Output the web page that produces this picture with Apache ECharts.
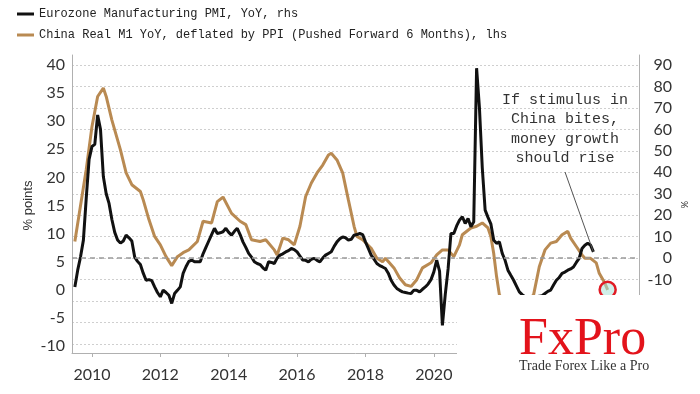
<!DOCTYPE html>
<html>
<head>
<meta charset="utf-8">
<script src="https://cdn.jsdelivr.net/npm/echarts@6/dist/echarts.min.js"></script>
<style>
html,body{margin:0;padding:0;background:#fff;}
#chart{width:700px;height:394px;}
</style>
</head>
<body>
<div id="chart"></div>
<script>
// ---- Data ----
const seriesNames = [
  'Eurozone Manufacturing PMI, YoY, rhs',
  'China Real M1 YoY, deflated by PPI (Pushed Forward 6 Months), lhs'
];
const leftTicks = { min: -10, max: 40, step: 5 };
const rightTicks = { min: -40, max: 90, step: 10 };

// Eurozone PMI YoY (%), monthly from 2009-07 to 2024-09 (rhs)
const pmiStart = '2009-07';
const pmiValues = [
  -13.4, -5.6, 0.6, 8.4, 28, 46,
  52, 53, 66.7, 60, 38, 30, 25.5, 18, 12, 8.5, 7, 8,
  10.7, 9.5, 8, 0.5, -1.5, -3, -7, -10.3, -10, -10.5, -13.4, -16,
  -18, -14.9, -16, -17.3, -21.1, -16.5, -15, -13.4, -7.1, -4, -1.5, -0.9,
  -1.7, -1.7, -1.7, 2, 5, 8, 11, 13.9, 11.5, 11.8, 12.3, 13.9,
  12, 10.7, 12.5, 13.9, 11, 7.6, 5, 2.2, 0.5, -1.7, -2.5, -3,
  -4.5, -5.6, -1.7, -2, -2.5, 0, 1.4, 2, 2.9, 3.5, 4.5, 4,
  2.9, 1, -0.9, -1, -1.7, -0.5, -0.1, -1, -1.7, 0, 1.4, 2.2,
  3, 5.5, 7.6, 9, 9.9, 9.5, 8.4, 8.8, 10.7, 11, 11.5, 11,
  7.6, 4.5, 1.4, -0.5, -2.5, -3.5, -4.1, -4.8, -7, -10.3, -12.5, -14.1,
  -15, -15.7, -16, -16.3, -16.5, -14.9, -15, -15.7, -14.5, -13.4, -12, -10,
  -6.4, -0.9, -6, -31.3, -17, -5, 11.5, 11.5, 15, 17.7, 19.3, 16.2,
  18.5, 14.6, 17, 88.5, 70, 42, 22.4, 19, 16, 8.4, 6.9, 7.6,
  2.2, -1, -5.6, -8, -10.3, -13, -15.7, -17, -18, -18.5, -19, -18.5,
  -18, -17.7, -17.5, -16.5, -15.5, -14.9, -12.5, -10.3, -9, -7.1, -6.5, -5.6,
  -5, -4.1, -2, -0.1, 4.5, 6, 6.9, 6.1, 2.9
];

// China real M1 YoY (%), pushed forward 6 months (lhs)
const m1Dates = [
  '2009-07','2009-11','2010-01','2010-03','2010-05','2010-06','2010-08','2010-11',
  '2011-01','2011-03','2011-06','2011-07','2011-09','2011-11',
  '2012-01','2012-03','2012-05','2012-07','2012-09','2012-11',
  '2013-02','2013-04','2013-07','2013-09','2013-11',
  '2014-02','2014-05','2014-07','2014-09','2014-12',
  '2015-02','2015-05','2015-06','2015-08','2015-10','2015-12',
  '2016-02','2016-04','2016-06','2016-08','2016-10','2016-12',
  '2017-01','2017-03','2017-05','2017-07','2017-09','2017-10','2017-12',
  '2018-03','2018-05','2018-07','2018-08','2018-11',
  '2019-01','2019-03','2019-05','2019-07','2019-09','2019-12',
  '2020-02','2020-04','2020-06','2020-08','2020-10','2020-11',
  '2021-02','2021-04','2021-06','2021-08','2021-09','2021-10','2021-11','2021-12',
  '2022-03','2022-06','2022-09','2022-12',
  '2023-02','2023-04','2023-06','2023-08','2023-10','2023-12',
  '2024-01','2024-03','2024-05','2024-06','2024-08','2024-10','2024-11',
  '2025-01','2025-02'
];
const m1Values = [
  8.6, 21.4, 29, 34.4, 35.9, 34.4, 30.2, 24.9,
  20.8, 18.7, 17.5, 16, 12.5, 9.5,
  8, 5.9, 4.3, 5.9, 6.6, 7.1,
  8.6, 12.2, 11.9, 15.7, 16.5,
  13.6, 12.2, 11.6, 8.9, 8.6,
  8.9, 7.1, 6.2, 9.2, 8.9, 8,
  11.3, 16.6, 19, 20.8, 22.2, 24,
  24.3, 23.1, 20.8, 16, 11.3, 9.5, 8.9,
  7.4, 5.6, 5.0, 5.6, 3.9,
  2.1, 0.9, 0.6, 1.8, 3.9, 4.8,
  6.2, 7.1, 7.1, 5.9, 8, 9.8,
  11, 11.3, 11.9, 11, 9.5, 6.5, 2.4, -0.9,
  -3, -3.5, -2.5, -0.9,
  4.1, 7.1, 8.3, 8.6, 9.8, 10.4,
  9.2, 7.7, 6.2, 5.6, 5.6, 4.8, 3.0,
  1.2, 0
];

// Monthly category axis 2009-06 .. 2026-01
const months = [];
for (let t = 2009 * 12 + 5; t <= 2026 * 12; t++) {
  months.push(Math.floor(t / 12) + '-' + String(t % 12 + 1).padStart(2, '0'));
}

const pmiStartIdx = months.indexOf(pmiStart);
const pmiData = pmiValues.map((v, k) => [months[pmiStartIdx + k], v]);
const m1Data = m1Dates.map((d, k) => [d, m1Values[k]]);
const pmiLast = pmiData[pmiData.length - 1];
const m1Last = m1Data[m1Data.length - 1];

const isYearTick = (idx, val) => val.endsWith('-01') && parseInt(val, 10) % 2 === 0;

const ORANGE = '#b98a52';
const BLACK = '#111111';
const LABEL = '#333333';
const AXIS = '#b0b0b0';

const chart = echarts.init(document.getElementById('chart'), null, { renderer: 'canvas' });
const gridPos = { left: 72, right: 61 };

const hiddenX = (gi) => ({
  type: 'category', gridIndex: gi, data: months, boundaryGap: false,
  show: false
});

chart.setOption({
  animation: false,
  backgroundColor: '#ffffff',
  textStyle: { fontFamily: 'Lato, "Liberation Sans", sans-serif' },
  legend: {
    data: [seriesNames[0], seriesNames[1]],
    orient: 'vertical', left: 17, top: 8, itemGap: 9, padding: 0,
    icon: 'rect', itemWidth: 17, itemHeight: 3,
    textStyle: { fontFamily: '"Liberation Mono", "DejaVu Sans Mono", monospace', fontSize: 12, color: '#222' }
  },
  grid: [
    { left: gridPos.left, right: gridPos.right, top: 55, bottom: 41 },
    { left: gridPos.left, right: gridPos.right, top: 65, bottom: 48 },
    { left: gridPos.left, right: gridPos.right, top: 65, bottom: 50 }
  ],
  xAxis: [
    {
      type: 'category', gridIndex: 0, data: months, boundaryGap: false,
      axisLine: { show: true, lineStyle: { color: AXIS, width: 1 } },
      axisTick: { show: true, interval: isYearTick, length: 4, lineStyle: { color: AXIS } },
      axisLabel: {
        interval: isYearTick, formatter: v => v.slice(0, 4),
        color: LABEL, fontSize: 16, margin: 14, fontFamily: 'Lato, sans-serif'
      },
      splitLine: { show: false }
    },
    hiddenX(1),
    hiddenX(2)
  ],
  yAxis: [
    { type: 'value', gridIndex: 0, min: 0, max: 1, position: 'left',
      axisLine: { show: true, lineStyle: { color: AXIS } }, axisTick: { show: false },
      axisLabel: { show: false }, splitLine: { show: false } },
    { type: 'value', gridIndex: 0, min: 0, max: 1, position: 'right',
      axisLine: { show: true, lineStyle: { color: AXIS } }, axisTick: { show: false },
      axisLabel: { show: false }, splitLine: { show: false } },
    { type: 'value', gridIndex: 1, position: 'left',
      min: leftTicks.min, max: leftTicks.max, interval: leftTicks.step,
      name: '% points', nameLocation: 'middle', nameRotate: 90, nameGap: 37,
      nameMoveOverlap: false,
      nameTextStyle: { color: LABEL, fontSize: 13, fontFamily: '"Liberation Sans", sans-serif' },
      axisLine: { show: false }, axisTick: { show: false },
      axisLabel: { color: LABEL, fontSize: 16, margin: 7, fontFamily: 'Lato, sans-serif' },
      splitLine: { show: false } },
    { type: 'value', gridIndex: 2, position: 'right',
      min: rightTicks.min, max: rightTicks.max, interval: rightTicks.step,
      name: '%', nameLocation: 'middle', nameRotate: -90, nameGap: 40,
      nameMoveOverlap: false,
      nameTextStyle: { color: LABEL, fontSize: 9 },
      axisLine: { show: false }, axisTick: { show: false },
      axisLabel: { color: LABEL, fontSize: 16, margin: 33, align: 'right', fontFamily: 'Lato, sans-serif' },
      splitLine: { show: true, lineStyle: { color: '#cfcfcf', type: [2, 2], width: 1 } } }
  ],
  series: [
    {
      name: seriesNames[1], type: 'line', xAxisIndex: 1, yAxisIndex: 2,
      data: m1Data, showSymbol: false, symbol: 'none',
      lineStyle: { color: ORANGE, width: 3 }, itemStyle: { color: ORANGE },
      z: 3,
      markPoint: {
        silent: true, symbol: 'circle', symbolSize: 16,
        itemStyle: { color: 'rgba(170,225,215,0.55)', borderColor: '#e01b24', borderWidth: 2.5 },
        label: { show: false },
        data: [{ coord: m1Last }]
      }
    },
    {
      name: seriesNames[0], type: 'line', xAxisIndex: 2, yAxisIndex: 3,
      data: pmiData, showSymbol: false, symbol: 'none',
      lineStyle: { color: BLACK, width: 3 }, itemStyle: { color: BLACK },
      z: 4,
      markLine: {
        silent: true, symbol: ['none', 'none'], label: { show: false },
        data: [
          { yAxis: 0, lineStyle: { color: '#9a9a9a', type: [5, 4], width: 1.5 } },
          [ { x: 565, y: 172, lineStyle: { color: '#555', type: 'solid', width: 1 } }, { coord: pmiLast } ]
        ]
      }
    }
  ],
  graphic: [
    {
      type: 'text', z: 50, x: 565, y: 90,
      style: {
        text: 'If stimulus in\nChina bites,\nmoney growth\nshould rise',
        align: 'center', verticalAlign: 'top',
        font: '15px "Liberation Mono", "DejaVu Sans Mono", monospace',
        lineHeight: 19.5, fill: '#333'
      }
    },
    {
      type: 'rect', z: 100, shape: { x: 457, y: 295, width: 243, height: 99 },
      style: { fill: '#ffffff' }
    },
    {
      type: 'text', z: 101, x: 519, y: 340,
      style: { text: 'FxPro', align: 'left', verticalAlign: 'middle',
        font: '52px "Liberation Serif", serif', fill: '#e3131b' }
    },
    {
      type: 'text', z: 101, x: 519, y: 366,
      style: { text: 'Trade Forex Like a Pro', align: 'left', verticalAlign: 'middle',
        font: '14px "Liberation Serif", serif', fill: '#333' }
    }
  ]
});
</script>
</body>
</html>
